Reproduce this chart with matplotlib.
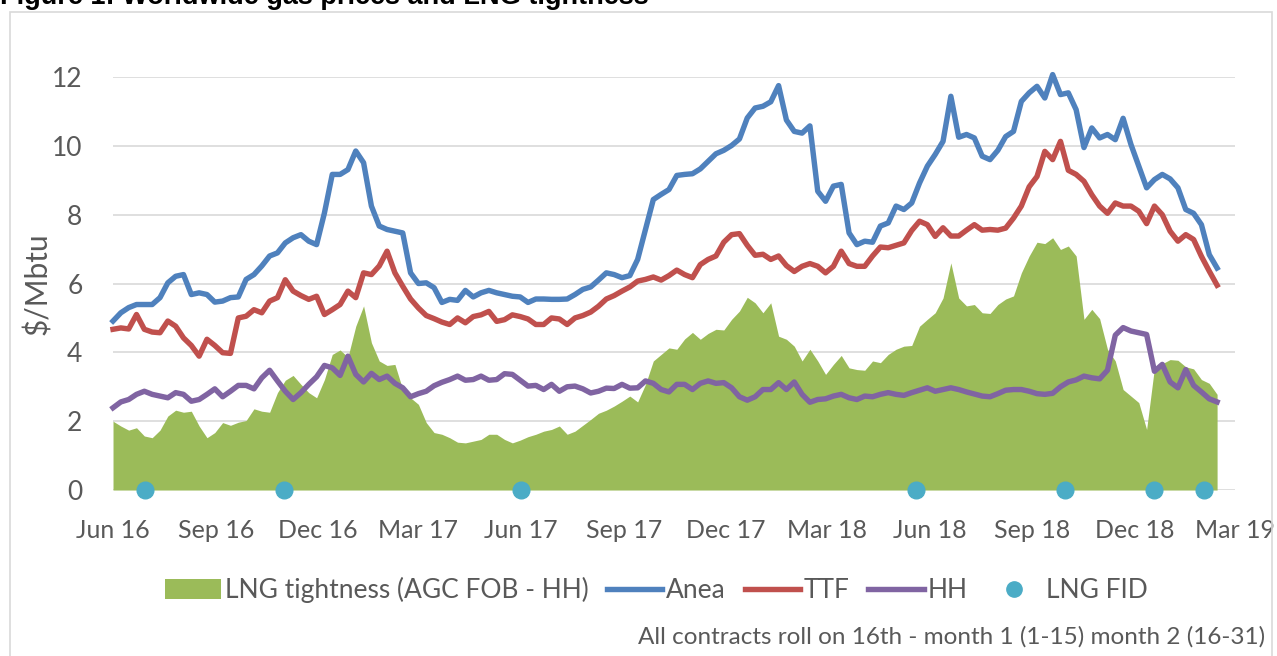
"""
Worldwide gas prices and LNG tightness: Anea, TTF and HH weekly prices
with the AGC FOB - HH spread as a filled area and LNG FIDs as dots.
"""

import matplotlib
matplotlib.use("Agg")  # no display
import matplotlib.pyplot as plt
import matplotlib.dates as mdates
from matplotlib.lines import Line2D
from matplotlib.patches import Patch, Rectangle
import pandas as pd

# ---------------------------------------------------------------------------
# Data (weekly)
# ---------------------------------------------------------------------------

WEEKS = pd.date_range("2016-06-01", periods=142, freq="7D")

ANEA = [
    4.91, 5.15, 5.30, 5.39, 5.39, 5.39, 5.59, 6.02, 6.21, 6.26,
    5.68, 5.73, 5.68, 5.46, 5.49, 5.59, 5.61, 6.12, 6.26, 6.51,
    6.80, 6.89, 7.18, 7.33, 7.42, 7.23, 7.13, 8.05, 9.17, 9.17,
    9.31, 9.85, 9.51, 8.25, 7.67, 7.57, 7.52,
    7.47, 6.31, 6.00, 6.02, 5.88, 5.45, 5.54, 5.51, 5.80, 5.61,
    5.73, 5.80, 5.73, 5.68, 5.63, 5.61, 5.45, 5.55, 5.55, 5.54,
    5.54, 5.55, 5.68, 5.83, 5.90, 6.10, 6.31, 6.26, 6.17, 6.23,
    6.70, 7.57, 8.44, 8.59, 8.73,
    9.14, 9.17, 9.19, 9.33, 9.55, 9.77, 9.87, 10.01, 10.20, 10.81,
    11.10, 11.15, 11.28, 11.75, 10.75, 10.42, 10.37, 10.58, 8.68, 8.39,
    8.83, 8.88, 7.47, 7.13, 7.23, 7.20, 7.67, 7.76, 8.25, 8.15,
    8.34, 8.92, 9.41, 9.75, 10.13, 11.44,
    10.25, 10.33, 10.23, 9.70, 9.60, 9.87, 10.27, 10.42, 11.29, 11.54,
    11.73, 11.39, 12.07, 11.49, 11.54, 11.05, 9.95, 10.52, 10.23, 10.33,
    10.18, 10.80, 10.04, 9.41, 8.78, 9.02, 9.17, 9.04, 8.78, 8.15,
    8.04, 7.71, 6.84, 6.45,
]

TTF = [
    4.67, 4.71, 4.68, 5.10, 4.67, 4.59, 4.57, 4.91, 4.76, 4.42,
    4.20, 3.89, 4.38, 4.20, 3.99, 3.97, 5.00, 5.05, 5.24, 5.15,
    5.49, 5.59, 6.11, 5.78, 5.65, 5.54, 5.63, 5.10, 5.24, 5.39,
    5.78, 5.59, 6.31, 6.26, 6.51, 6.94, 6.31,
    5.92, 5.55, 5.29, 5.07, 4.98, 4.88, 4.81, 5.00, 4.86, 5.04,
    5.09, 5.19, 4.90, 4.95, 5.09, 5.04, 4.97, 4.81, 4.81, 5.00,
    4.97, 4.81, 5.00, 5.07, 5.17, 5.34, 5.55, 5.65, 5.78, 5.90,
    6.07, 6.12, 6.19, 6.10, 6.23,
    6.39, 6.26, 6.17, 6.55, 6.70, 6.80, 7.20, 7.42, 7.45, 7.11,
    6.82, 6.85, 6.70, 6.80, 6.52, 6.35, 6.50, 6.58, 6.50, 6.31,
    6.50, 6.94, 6.58, 6.50, 6.50, 6.80, 7.06, 7.04, 7.11, 7.18,
    7.54, 7.81, 7.71, 7.37, 7.62, 7.38,
    7.38, 7.55, 7.71, 7.55, 7.57, 7.55, 7.61, 7.90, 8.25, 8.81,
    9.11, 9.84, 9.60, 10.13, 9.29, 9.17, 8.97, 8.58, 8.25, 8.04,
    8.34, 8.25, 8.25, 8.10, 7.74, 8.25, 8.00, 7.52, 7.23, 7.42,
    7.28, 6.79, 6.36, 5.95,
]

HH = [
    2.39, 2.56, 2.63, 2.78, 2.87, 2.78, 2.73, 2.68, 2.83, 2.78,
    2.58, 2.63, 2.78, 2.94, 2.71, 2.87, 3.04, 3.04, 2.94, 3.26,
    3.48, 3.17, 2.87, 2.63, 2.83, 3.07, 3.29, 3.62, 3.55, 3.33,
    3.89, 3.36, 3.14, 3.39, 3.21, 3.31, 3.10,
    2.97, 2.71, 2.80, 2.87, 3.03, 3.13, 3.21, 3.31, 3.19, 3.21,
    3.31, 3.19, 3.21, 3.38, 3.36, 3.19, 3.02, 3.04, 2.92, 3.07,
    2.87, 3.00, 3.02, 2.94, 2.82, 2.87, 2.96, 2.95, 3.07, 2.96,
    2.97, 3.17, 3.10, 2.92, 2.85,
    3.07, 3.07, 2.92, 3.10, 3.17, 3.10, 3.12, 2.97, 2.71, 2.61,
    2.71, 2.92, 2.92, 3.12, 2.92, 3.14, 2.78, 2.55, 2.63, 2.65,
    2.73, 2.78, 2.68, 2.63, 2.73, 2.71, 2.78, 2.83, 2.78, 2.75,
    2.83, 2.90, 2.97, 2.87, 2.92, 2.97,
    2.92, 2.85, 2.79, 2.73, 2.71, 2.80, 2.90, 2.92, 2.92, 2.87,
    2.80, 2.78, 2.81, 3.00, 3.14, 3.20, 3.31, 3.26, 3.23, 3.48,
    4.50, 4.72, 4.62, 4.57, 4.52, 3.45, 3.65, 3.14, 2.97, 3.50,
    3.04, 2.85, 2.65, 2.56,
]

LNG_TIGHTNESS = [
    2.00, 1.86, 1.74, 1.81, 1.57, 1.52, 1.74, 2.15, 2.32, 2.26,
    2.29, 1.86, 1.52, 1.67, 1.96, 1.88, 1.97, 2.02, 2.36, 2.29,
    2.26, 2.83, 3.19, 3.33, 3.07, 2.83, 2.68, 3.21, 3.94, 4.07,
    3.86, 4.76, 5.35, 4.28, 3.75, 3.62, 3.65,
    2.92, 2.68, 2.49, 1.96, 1.67, 1.62, 1.52, 1.39, 1.37, 1.42,
    1.47, 1.62, 1.62, 1.47, 1.37, 1.45, 1.55, 1.62, 1.71, 1.76,
    1.86, 1.62, 1.71, 1.88, 2.05, 2.23, 2.32, 2.44, 2.58, 2.73,
    2.56, 3.07, 3.75, 3.94, 4.13,
    4.09, 4.39, 4.58, 4.38, 4.55, 4.67, 4.65, 4.96, 5.20, 5.60,
    5.44, 5.15, 5.44, 4.47, 4.38, 4.18, 3.75, 4.09, 3.75, 3.36,
    3.65, 3.91, 3.55, 3.50, 3.48, 3.75, 3.70, 3.94, 4.09, 4.18,
    4.20, 4.76, 4.96, 5.15, 5.58, 6.60,
    5.58, 5.35, 5.39, 5.15, 5.13, 5.39, 5.55, 5.64, 6.31, 6.80,
    7.20, 7.16, 7.33, 6.99, 7.09, 6.80, 4.96, 5.25, 4.98, 4.09,
    3.75, 2.92, 2.73, 2.54, 1.76, 3.55, 3.67, 3.79, 3.77, 3.58,
    3.52, 3.21, 3.10, 2.78,
]

FID_DATES = pd.to_datetime([
    "2016-06-30", "2016-11-01", "2017-06-01", "2018-05-20",
    "2018-09-30", "2018-12-19", "2019-02-01",
])
FID_VALUES = [0, 0, 0, 0, 0, 0, 0]

Y_TICKS = [0, 2, 4, 6, 8, 10, 12]

# ---------------------------------------------------------------------------
# Styling
# ---------------------------------------------------------------------------

_GREEN  = "#9BBB59"
_BLUE   = "#4F81BD"
_RED    = "#C0504D"
_PURPLE = "#8064A2"
_AQUA   = "#4BACC6"
_GRID   = "#D9D9D9"
_TEXT   = "#595959"
_LW     = 3.9

plt.rcParams["font.family"] = ["Lato", "DejaVu Sans"]

fig = plt.figure(figsize=(12.77, 6.56), dpi=100)
ax = fig.add_axes([0.0885, 0.2530, 0.8786, 0.6296])

# chart border (bottom edge runs off the image)
fig.patches.append(Rectangle((10 / 1277, -0.02), 1262 / 1277, 1.02 - 12 / 656,
                             transform=fig.transFigure, fill=False,
                             edgecolor=_GRID, linewidth=1.2))

ax.fill_between(WEEKS, 0, LNG_TIGHTNESS, color=_GREEN, linewidth=0, zorder=2)
ax.plot(WEEKS, ANEA, color=_BLUE, lw=_LW, zorder=3, clip_on=False)
ax.plot(WEEKS, TTF, color=_RED, lw=_LW, zorder=3, clip_on=False)
ax.plot(WEEKS, HH, color=_PURPLE, lw=_LW, zorder=3, clip_on=False)
ax.plot(FID_DATES, FID_VALUES, "o", color=_AQUA, ms=12, zorder=4,
        clip_on=False)

ax.set_xlim(pd.Timestamp("2016-06-01"), pd.Timestamp("2019-03-01"))
ax.set_ylim(0, 12)
ax.set_yticks(Y_TICKS)
ax.xaxis.set_major_locator(mdates.MonthLocator(bymonth=[3, 6, 9, 12]))
ax.xaxis.set_major_formatter(mdates.DateFormatter("%b %y"))

ax.grid(axis="y", color=_GRID, linewidth=1.2, zorder=0)
ax.set_axisbelow(True)
for side in ax.spines.values():
    side.set_visible(False)
ax.tick_params(axis="x", length=0, pad=21, labelsize=18, labelcolor=_TEXT)
ax.tick_params(axis="y", length=0, pad=22, labelsize=19, labelcolor=_TEXT)

ax.set_ylabel("$/Mbtu", fontsize=21.5, color=_TEXT)
ax.yaxis.set_label_coords(-0.054, 0.5)

handles = [
    Patch(facecolor=_GREEN, edgecolor="none"),
    Line2D([], [], color=_BLUE, lw=_LW),
    Line2D([], [], color=_RED, lw=_LW),
    Line2D([], [], color=_PURPLE, lw=_LW),
    Line2D([], [], color=_AQUA, marker="o", ms=11, ls="none"),
]
labels = ["LNG tightness (AGC FOB - HH)", "Anea", "TTF", "HH", "LNG FID"]
leg = fig.legend(handles, labels, loc="center", bbox_to_anchor=(0.514, 0.1006),
                 ncol=5, frameon=False, fontsize=19, handlelength=2.1,
                 handletextpad=0.15, columnspacing=0.7, handleheight=0.75)
for t in leg.get_texts():
    t.set_color(_TEXT)

fig.text(1265 / 1277, (656 - 637) / 656,
         "All contracts roll on 16th - month 1 (1-15) month 2 (16-31)",
         ha="right", va="center", fontsize=17.5, color=_TEXT)

# the reference crops the title at the top edge of the image
fig.text(0.0, 1 - 4.5 / 656, "Figure 1: Worldwide gas prices and LNG tightness",
         ha="left", va="baseline", fontsize=19.5, fontweight="bold",
         family="Liberation Sans", color="black")

fig.savefig("out.png", dpi=100)
